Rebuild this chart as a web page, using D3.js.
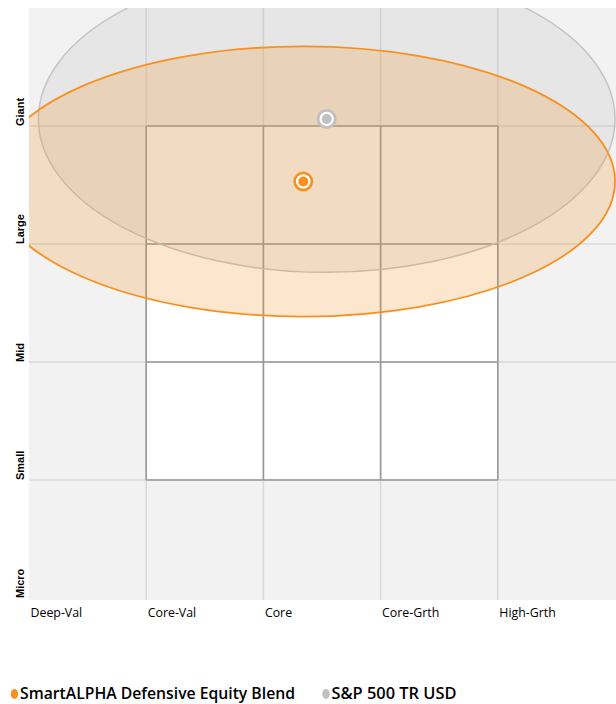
<!DOCTYPE html>
<html>
<head>
<meta charset="utf-8">
<script src="https://cdn.jsdelivr.net/npm/d3@7"></script>
<style>
  body { margin: 0; background: #ffffff; }
  svg { display: block; }
</style>
</head>
<body>
<svg id="chart" width="616" height="704"></svg>
<script>
// ---- data ----
const styleLabels = ["Deep-Val", "Core-Val", "Core", "Core-Grth", "High-Grth"];
const sizeLabels = ["Micro", "Small", "Mid", "Large", "Giant"];
const seriesNames = ["SmartALPHA Defensive Equity Blend", "S&P 500 TR USD"];
const seriesColors = ["#f7901e", "#c0c0c0"];
// centroid (style score, size score) in grid units
const centroidX = [2.34, 2.54];
const centroidY = [3.53, 4.06];
// ownership zone half-widths in grid units
const zoneRx = [2.66, 2.46];
const zoneRy = [1.145, 1.30];
// style box extent (3x3) in grid units
const boxExtent = [1, 4];

// ---- layout ----
const svg = d3.select("#chart");
const pLeft = 29, pRight = 615, pTop = 8, pBottom = 598;
const x = d3.scaleLinear().domain([0, 5]).range([pLeft, pRight]);
const y = d3.scaleLinear().domain([0, 5]).range([pBottom, pTop]);

svg.append("defs").append("clipPath").attr("id", "plotclip")
  .append("rect").attr("x", pLeft).attr("y", pTop).attr("width", 616 - pLeft).attr("height", 600 - pTop);

const g = svg.append("g");
g.append("rect").attr("x", pLeft).attr("y", pTop).attr("width", 616 - pLeft).attr("height", 600 - pTop)
  .attr("fill", "#f2f2f2");

// white style box
g.append("rect")
  .attr("x", x(boxExtent[0])).attr("y", y(boxExtent[1]))
  .attr("width", x(boxExtent[1]) - x(boxExtent[0]))
  .attr("height", y(boxExtent[0]) - y(boxExtent[1]))
  .attr("fill", "#ffffff");

// light grid
const gridVals = [1, 2, 3, 4];
g.selectAll("line.vg").data(gridVals).join("line")
  .attr("x1", d => x(d)).attr("x2", d => x(d)).attr("y1", pTop).attr("y2", 600)
  .attr("stroke", "#d9d9d9").attr("stroke-width", 1.5);
g.selectAll("line.hg").data(gridVals).join("line")
  .attr("y1", d => y(d)).attr("y2", d => y(d)).attr("x1", pLeft).attr("x2", 616)
  .attr("stroke", "#d9d9d9").attr("stroke-width", 1.5);

// style box lines
g.selectAll("line.bv").data(gridVals).join("line")
  .attr("x1", d => x(d)).attr("x2", d => x(d)).attr("y1", y(boxExtent[1])).attr("y2", y(boxExtent[0]))
  .attr("stroke", "#999999").attr("stroke-width", 1.6);
g.selectAll("line.bh").data(gridVals).join("line")
  .attr("y1", d => y(d)).attr("y2", d => y(d)).attr("x1", x(boxExtent[0])).attr("x2", x(boxExtent[1]))
  .attr("stroke", "#999999").attr("stroke-width", 1.6);

// ownership zones
const zones = g.append("g").attr("clip-path", "url(#plotclip)");
const order = [1, 0];
order.forEach(i => {
  zones.append("ellipse")
    .attr("cx", x(centroidX[i])).attr("cy", y(centroidY[i]))
    .attr("rx", x(zoneRx[i]) - x(0)).attr("ry", y(0) - y(zoneRy[i]))
    .attr("fill", i === 0 ? "#f68b1f" : "#a8a8a8")
    .attr("fill-opacity", i === 0 ? 0.22 : 0.16)
    .attr("stroke", i === 0 ? "#f7901e" : "#c4c4c4")
    .attr("stroke-width", i === 0 ? 1.8 : 1.5);
});

// centroids
order.forEach(i => {
  const cx = x(centroidX[i]), cy = y(centroidY[i]);
  g.append("circle").attr("cx", cx).attr("cy", cy).attr("r", 10).attr("fill", seriesColors[i]);
  g.append("circle").attr("cx", cx).attr("cy", cy).attr("r", 7.2).attr("fill", "#ffffff");
  g.append("circle").attr("cx", cx).attr("cy", cy).attr("r", 5).attr("fill", seriesColors[i]);
});

// helper: horizontally condense text
function condense(sel, factor) {
  sel.each(function () {
    const w = this.getComputedTextLength();
    d3.select(this).attr("textLength", w * factor).attr("lengthAdjust", "spacingAndGlyphs");
  });
}

// x labels
svg.selectAll("text.xl").data(styleLabels).join("text")
  .attr("class", "xl")
  .attr("x", (d, i) => x(i) + 1.5).attr("y", 617)
  .attr("font-family", "'Open Sans', sans-serif").attr("font-size", 13)
  .attr("fill", "#000").text(d => d)
  .call(condense, 0.95);

// y labels
svg.selectAll("text.yl").data(sizeLabels).join("text")
  .attr("class", "yl")
  .attr("transform", (d, i) => `translate(24,${y(i)}) rotate(-90)`)
  .attr("font-family", "'Liberation Sans', Arial, sans-serif").attr("font-size", 11)
  .attr("font-weight", "bold").attr("fill", "#000").text(d => d);

// legend
const legX = [14.5, 326];
const legW = [275, 125];
seriesNames.forEach((n, i) => {
  svg.append("ellipse").attr("cx", legX[i]).attr("cy", 694).attr("rx", 3.7).attr("ry", 5)
    .attr("fill", seriesColors[i]);
  const t = svg.append("text").attr("x", legX[i] + 5.5).attr("y", 699)
    .attr("font-family", "'Open Sans', sans-serif").attr("font-size", 17).attr("font-weight", 600)
    .attr("fill", "#000").text(n);
  t.attr("textLength", legW[i]).attr("lengthAdjust", "spacingAndGlyphs");
});
</script>
</body>
</html>
